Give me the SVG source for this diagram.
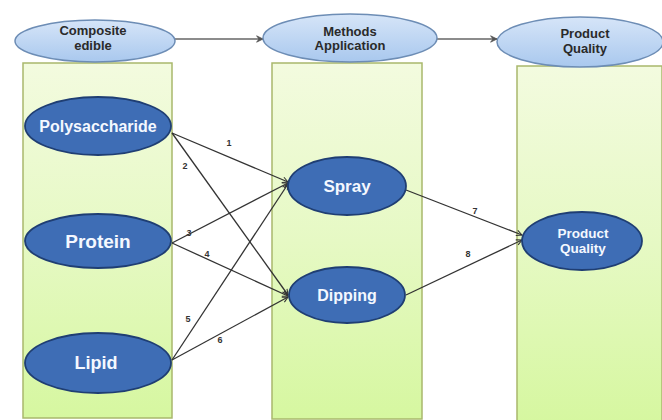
<svg xmlns="http://www.w3.org/2000/svg" width="662" height="420" viewBox="0 0 662 420">
<defs>
  <linearGradient id="gGreen" x1="0" y1="0" x2="0" y2="1">
    <stop offset="0" stop-color="#f3fbdf"/>
    <stop offset="0.5" stop-color="#e6f9c4"/>
    <stop offset="1" stop-color="#d6f7a0"/>
  </linearGradient>
  <linearGradient id="gTop" x1="0" y1="0" x2="0" y2="1">
    <stop offset="0" stop-color="#d6e5f8"/>
    <stop offset="1" stop-color="#a9c8ee"/>
  </linearGradient>
  <marker id="arr" viewBox="0 0 10 10" refX="9" refY="5" markerWidth="7" markerHeight="7" orient="auto" markerUnits="userSpaceOnUse">
    <path d="M1,1 L9,5 L1,9" fill="none" stroke="#333" stroke-width="1.5"/>
  </marker>
  <marker id="arrTop" viewBox="0 0 10 10" refX="9" refY="5" markerWidth="8" markerHeight="8" orient="auto" markerUnits="userSpaceOnUse">
    <path d="M1,1 L9,5 L1,9 L4,5 Z" fill="#555" stroke="#555" stroke-width="1"/>
  </marker>
</defs>
<style>
  .panel { fill: url(#gGreen); stroke: #a9b86c; stroke-width: 1.5; }
  .head { fill: url(#gTop); stroke: #6d8db5; stroke-width: 1.5; }
  .headtxt { font-family: "Liberation Sans", Arial, sans-serif; font-weight: bold; font-size: 13px; fill: #2a2a2a; text-anchor: middle; }
  .node { fill: #3e6db5; stroke: #1f3e73; stroke-width: 1.8; }
  .ntxt { font-family: "Liberation Sans", Arial, sans-serif; font-weight: bold; fill: #f4f8ff; text-anchor: middle; }
  .edge { stroke: #333; stroke-width: 1.3; fill: none; marker-end: url(#arr); }
  .topedge { stroke: #666; stroke-width: 1.6; fill: none; marker-end: url(#arrTop); }
  .lbl { font-family: "Liberation Sans", Arial, sans-serif; font-weight: bold; font-size: 9px; fill: #333; text-anchor: middle; }
</style>
<rect x="0" y="0" width="662" height="420" fill="#ffffff"/>

<g id="panels">
  <rect class="panel" x="23" y="63" width="149" height="355"/>
  <rect class="panel" x="272" y="63" width="150" height="356"/>
  <rect class="panel" x="517" y="66" width="145" height="356"/>
</g>

<g id="connectors">
  <line class="topedge" x1="175" y1="39" x2="263" y2="39"/>
  <line class="topedge" x1="437" y1="39" x2="497" y2="39"/>
  <line class="edge" x1="172" y1="133" x2="288" y2="182"/>
  <line class="edge" x1="172" y1="133" x2="288" y2="295"/>
  <line class="edge" x1="172" y1="243" x2="288" y2="183"/>
  <line class="edge" x1="172" y1="243" x2="288" y2="296"/>
  <line class="edge" x1="172" y1="360" x2="288" y2="184"/>
  <line class="edge" x1="172" y1="360" x2="288" y2="297"/>
  <line class="edge" x1="406" y1="190" x2="522" y2="235"/>
  <line class="edge" x1="406" y1="295" x2="522" y2="240"/>
  <text class="lbl" x="229" y="146">1</text>
  <text class="lbl" x="185" y="169">2</text>
  <text class="lbl" x="189" y="236">3</text>
  <text class="lbl" x="207" y="257">4</text>
  <text class="lbl" x="188" y="322">5</text>
  <text class="lbl" x="220" y="343">6</text>
  <text class="lbl" x="475" y="214">7</text>
  <text class="lbl" x="468" y="257">8</text>
</g>

<g id="head-composite">
  <ellipse class="head" cx="95" cy="41" rx="80" ry="21"/>
  <text class="headtxt" x="93" y="35">Composite</text>
  <text class="headtxt" x="93" y="50">edible</text>
</g>
<g id="head-methods">
  <ellipse class="head" cx="350" cy="38" rx="87" ry="24"/>
  <text class="headtxt" x="350" y="36">Methods</text>
  <text class="headtxt" x="350" y="50">Application</text>
</g>
<g id="head-quality">
  <ellipse class="head" cx="580" cy="42" rx="83" ry="25"/>
  <text class="headtxt" x="585" y="38">Product</text>
  <text class="headtxt" x="585" y="53">Quality</text>
</g>

<g id="polysaccharide">
  <ellipse class="node" cx="98" cy="126" rx="73" ry="29"/>
  <text class="ntxt" x="98" y="132" font-size="16">Polysaccharide</text>
</g>
<g id="protein">
  <ellipse class="node" cx="98" cy="241" rx="73" ry="27"/>
  <text class="ntxt" x="98" y="248" font-size="19">Protein</text>
</g>
<g id="lipid">
  <ellipse class="node" cx="98" cy="363" rx="73" ry="30"/>
  <text class="ntxt" x="96" y="369" font-size="18">Lipid</text>
</g>
<g id="spray">
  <ellipse class="node" cx="347" cy="186" rx="59" ry="29"/>
  <text class="ntxt" x="347" y="192" font-size="17">Spray</text>
</g>
<g id="dipping">
  <ellipse class="node" cx="347" cy="295" rx="58" ry="28"/>
  <text class="ntxt" x="347" y="301" font-size="16">Dipping</text>
</g>
<g id="product-quality">
  <ellipse class="node" cx="582" cy="241" rx="60" ry="29"/>
  <text class="ntxt" x="583" y="238" font-size="13.5">Product</text>
  <text class="ntxt" x="583" y="253" font-size="13.5">Quality</text>
</g>
</svg>
